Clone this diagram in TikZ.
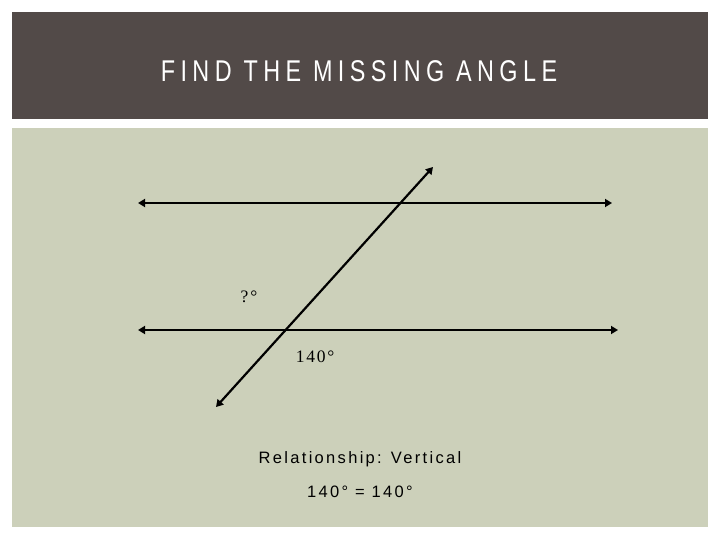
\documentclass[tikz,border=0pt]{standalone}
\usepackage{fontspec}
\setmainfont{Liberation Serif}
\newfontfamily\titlefont[FakeStretch=0.78,LetterSpace=18]{Liberation Sans}
\newfontfamily\notefont[LetterSpace=14]{Liberation Sans}
\newfontfamily\anglefont[LetterSpace=10]{Liberation Serif}
\usetikzlibrary{arrows.meta}
\definecolor{bandgray}{RGB}{82,74,72}
\definecolor{sage}{RGB}{204,208,186}

\begin{document}
\begin{tikzpicture}[x=1pt,y=-1pt,
    line/.style={line width=2.2pt,{Triangle[length=7pt,width=8pt]}-{Triangle[length=7pt,width=8pt]}},
    angle/.style={font=\anglefont\fontsize{17.5}{20}\selectfont},
    note/.style={font=\notefont\fontsize{16.5}{19}\selectfont}]
    \useasboundingbox (0,0) rectangle (720,540);
    \fill[white] (0,0) rectangle (720,540);
    \fill[bandgray] (12,12) rectangle (708,119);
    \fill[sage] (12,128) rectangle (708,527);
    \node[white,font=\titlefont\fontsize{30}{34}\selectfont] (title) at (359,71) {FIND THE MISSING ANGLE};
    % parallel lines and the transversal
    \coordinate (top1) at (138,203);
    \coordinate (top2) at (612,203);
    \coordinate (bot1) at (138,330);
    \coordinate (bot2) at (618,330);
    \coordinate (cut1) at (216,407);
    \coordinate (cut2) at (433,167);
    \draw[line] (top1) -- (top2);
    \draw[line] (bot1) -- (bot2);
    \draw[line] (cut1) -- (cut2);
    \node[angle] (unknown) at (249,297) {?°};
    \node[angle] (given) at (315,357) {140°};
    \node[note] (relation) at (360,459) {Relationship: Vertical};
    \node[note] (equal) at (360,492) {140° = 140°};
\end{tikzpicture}
\end{document}
